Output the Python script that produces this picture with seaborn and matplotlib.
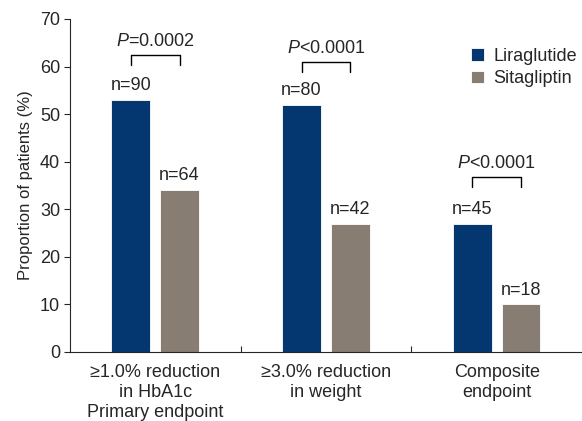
import pandas as pd
import numpy as np
import matplotlib
matplotlib.use("Agg")
import matplotlib.pyplot as plt
import seaborn as sns
from matplotlib.ticker import FixedLocator

# Chart data
categories = ["≥1.0% reduction\nin HbA1c\nPrimary endpoint",
              "≥3.0% reduction\nin weight",
              "Composite\nendpoint"]
treatments = ["Liraglutide", "Sitagliptin"]
liraglutide = [53, 52, 27]
sitagliptin = [34, 27, 10]
lira_n = ["n=90", "n=80", "n=45"]
sita_n = ["n=64", "n=42", "n=18"]
p_values = ["=0.0002", "<0.0001", "<0.0001"]
bracket_top = [62.5, 60.9, 36.8]

colors = ["#04366f", "#877d72"]

df = pd.DataFrame({
    "category": categories * 2,
    "treatment": [treatments[0]] * 3 + [treatments[1]] * 3,
    "value": liraglutide + sitagliptin,
})

sns.set_style("ticks")
plt.rcParams["font.family"] = ["Liberation Sans", "DejaVu Sans"]
plt.rcParams["mathtext.fontset"] = "custom"
plt.rcParams["mathtext.it"] = "Liberation Sans:italic"

fig = plt.figure(figsize=(5.82, 4.21), dpi=100)
ax = fig.add_axes([0.120, 0.164, 0.880, 0.791])

sns.barplot(data=df, x="category", y="value", hue="treatment",
            palette=colors, saturation=1, width=0.57, gap=0.2, ax=ax,
            edgecolor="white", linewidth=0.6, legend=True)

ax.set_xlim(-0.5, 2.5)
ax.set_ylim(0, 70)
ax.set_yticks(range(0, 71, 10))
ax.tick_params(axis="y", labelsize=13, length=4, width=0.8, direction="out", pad=3)
ax.tick_params(axis="x", labelsize=13, length=0, pad=9)
ax.xaxis.set_minor_locator(FixedLocator([0.5, 1.5]))
ax.tick_params(axis="x", which="minor", direction="in", length=4, width=0.8)
for lab in ax.get_xticklabels():
    lab.set_linespacing(1.2)
ax.set_xlabel("")
ax.set_ylabel("Proportion of patients (%)", fontsize=12, labelpad=5)
sns.despine(ax=ax)
for s in ["left", "bottom"]:
    ax.spines[s].set_linewidth(0.8)

# dodge offset of the bars
off = 0.57 / 4
for i in range(3):
    ax.text(i - off, liraglutide[i] + 1.2, lira_n[i], ha="center", va="bottom", fontsize=13)
    ax.text(i + off, sitagliptin[i] + 1.2, sita_n[i], ha="center", va="bottom", fontsize=13)
    top = bracket_top[i]
    ax.plot([i - off, i - off, i + off, i + off], [top - 2.1, top, top, top - 2.1],
            color="black", lw=1.0)
    ax.text(i, top + 1.0, r"$\mathit{P}$" + p_values[i], ha="center", va="bottom",
            fontsize=13)

ax.legend(frameon=False, fontsize=13, loc="upper left",
          bbox_to_anchor=(0.77, 0.935), handlelength=0.7, handleheight=0.7,
          handletextpad=0.5, labelspacing=0.3, borderaxespad=0)

fig.savefig("out.png", dpi=100)
